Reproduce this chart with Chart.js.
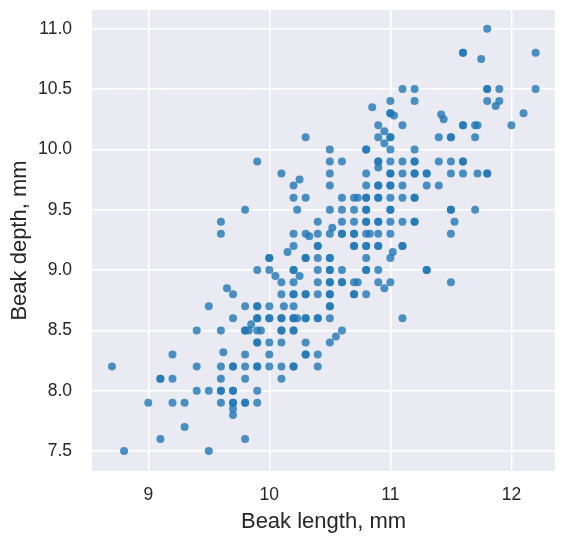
<!DOCTYPE html>
<html><head><meta charset="utf-8">
<script src="https://cdn.jsdelivr.net/npm/chart.js@4/dist/chart.umd.min.js"></script>
<style>html,body{margin:0;padding:0;background:#fff;}#wrap{width:565px;height:543px;}</style>
</head><body><div id="wrap"><canvas id="c" width="565" height="543"></canvas></div>
<script>
// Beak length (mm), one line per beak-depth row
const beakLength = [
  11.8,
  11.6, 11.6, 12.2,
  11.75,
  11.1, 11.2, 11.8, 11.8, 11.9, 12.2,
  11.0, 11.2, 11.8, 11.9,
  11.87,
  10.85,
  11.0, 11.0, 12.1,
  11.42,
  11.03,
  11.44,
  10.9, 11.1, 11.6, 11.6, 11.7, 11.72, 12.0,
  10.95,
  10.3, 10.9, 11.0, 11.0, 11.4, 11.5, 11.5, 11.7,
  10.95,
  10.5, 10.8, 10.8, 11.0, 11.2,
  9.9, 10.5, 10.6, 10.9, 10.9, 11.0, 11.1, 11.2, 11.2, 11.4, 11.5, 11.6, 11.6,
  10.9,
  10.1, 10.5, 10.8, 11.0, 11.0, 11.1, 11.2, 11.2, 11.3, 11.3, 11.5, 11.6, 11.72, 11.8, 11.8,
  10.25,
  10.2, 10.5, 10.8, 10.9, 10.9, 11.0, 11.0, 11.1, 11.3, 11.4,
  10.2, 10.3, 10.6, 10.7, 10.73, 10.8, 10.8, 10.9, 10.9, 11.0, 11.1, 11.2, 11.2,
  9.8, 10.23, 10.5, 10.6, 10.7, 10.8, 10.8, 11.0, 11.0, 11.5, 11.5, 11.7,
  9.6, 10.4, 10.6, 10.7, 10.8, 10.8, 10.9, 10.9, 11.0, 11.1, 11.2, 11.2, 11.53,
  10.52,
  9.6, 10.2, 10.3, 10.4, 10.5, 10.6, 10.6, 10.7, 10.7, 10.8, 10.83, 10.9, 11.0, 11.5,
  10.33,
  10.2, 10.4, 10.4, 10.7, 10.7, 10.8, 10.8, 10.9, 10.9, 11.1, 11.1,
  10.15, 11.02,
  10.0, 10.0, 10.3, 10.3, 10.4, 10.5, 10.5, 10.8, 11.0,
  9.9, 10.0, 10.2, 10.2, 10.4, 10.5, 10.5, 10.6, 10.8, 10.8, 10.9, 11.3, 11.3,
  10.05, 10.25,
  10.1, 10.2, 10.4, 10.5, 10.5, 10.6, 10.6, 10.7, 10.73, 10.9, 11.0, 11.5,
  9.65, 10.95,
  9.7, 10.1, 10.2, 10.2, 10.3, 10.3, 10.4, 10.5, 10.5, 10.7, 10.7, 10.8,
  9.5, 9.8, 9.9, 9.9, 10.0, 10.12, 10.2, 10.5, 10.5,
  9.7, 9.9, 9.9, 10.0, 10.0, 10.1, 10.1, 10.2, 10.2, 10.23, 10.3, 10.3, 10.4, 10.4, 10.5, 11.1,
  9.85,
  9.4, 9.6, 9.8, 9.8, 9.83, 9.9, 9.93, 10.1, 10.1, 10.2, 10.2, 10.6,
  10.55,
  9.9, 9.9, 10.0, 10.1, 10.3, 10.5,
  9.62,
  9.2, 9.8, 10.0, 10.3, 10.3, 10.4,
  8.7, 9.4, 9.6, 9.7, 9.7, 9.8, 9.9, 9.9, 10.0, 10.1, 10.2, 10.2, 10.4,
  9.1, 9.1, 9.2, 9.6, 9.8, 10.1,
  9.4, 9.5, 9.6, 9.6, 9.7, 9.7, 9.9,
  9.0, 9.2, 9.3, 9.6, 9.7, 9.7, 9.8, 9.8, 9.9,
  9.7,
  9.7,
  9.3,
  9.1, 9.8,
  8.8, 9.5
];
// Beak depth (mm), same order as beakLength
const beakDepth = [
  11.0,
  10.8, 10.8, 10.8,
  10.75,
  10.5, 10.5, 10.5, 10.5, 10.5, 10.5,
  10.4, 10.4, 10.4, 10.4,
  10.36,
  10.35,
  10.3, 10.3, 10.3,
  10.29,
  10.28,
  10.25,
  10.2, 10.2, 10.2, 10.2, 10.2, 10.2, 10.2,
  10.15,
  10.1, 10.1, 10.1, 10.1, 10.1, 10.1, 10.1, 10.1,
  10.05,
  10.0, 10.0, 10.0, 10.0, 10.0,
  9.9, 9.9, 9.9, 9.9, 9.9, 9.9, 9.9, 9.9, 9.9, 9.9, 9.9, 9.9, 9.9,
  9.85,
  9.8, 9.8, 9.8, 9.8, 9.8, 9.8, 9.8, 9.8, 9.8, 9.8, 9.8, 9.8, 9.8, 9.8, 9.8,
  9.75,
  9.7, 9.7, 9.7, 9.7, 9.7, 9.7, 9.7, 9.7, 9.7, 9.7,
  9.6, 9.6, 9.6, 9.6, 9.6, 9.6, 9.6, 9.6, 9.6, 9.6, 9.6, 9.6, 9.6,
  9.5, 9.5, 9.5, 9.5, 9.5, 9.5, 9.5, 9.5, 9.5, 9.5, 9.5, 9.5,
  9.4, 9.4, 9.4, 9.4, 9.4, 9.4, 9.4, 9.4, 9.4, 9.4, 9.4, 9.4, 9.4,
  9.35,
  9.3, 9.3, 9.3, 9.3, 9.3, 9.3, 9.3, 9.3, 9.3, 9.3, 9.3, 9.3, 9.3, 9.3,
  9.28,
  9.2, 9.2, 9.2, 9.2, 9.2, 9.2, 9.2, 9.2, 9.2, 9.2, 9.2,
  9.15, 9.15,
  9.1, 9.1, 9.1, 9.1, 9.1, 9.1, 9.1, 9.1, 9.1,
  9.0, 9.0, 9.0, 9.0, 9.0, 9.0, 9.0, 9.0, 9.0, 9.0, 9.0, 9.0, 9.0,
  8.95, 8.95,
  8.9, 8.9, 8.9, 8.9, 8.9, 8.9, 8.9, 8.9, 8.9, 8.9, 8.9, 8.9,
  8.85, 8.85,
  8.8, 8.8, 8.8, 8.8, 8.8, 8.8, 8.8, 8.8, 8.8, 8.8, 8.8, 8.8,
  8.7, 8.7, 8.7, 8.7, 8.7, 8.7, 8.7, 8.7, 8.7,
  8.6, 8.6, 8.6, 8.6, 8.6, 8.6, 8.6, 8.6, 8.6, 8.6, 8.6, 8.6, 8.6, 8.6, 8.6, 8.6,
  8.55,
  8.5, 8.5, 8.5, 8.5, 8.5, 8.5, 8.5, 8.5, 8.5, 8.5, 8.5, 8.5,
  8.45,
  8.4, 8.4, 8.4, 8.4, 8.4, 8.4,
  8.32,
  8.3, 8.3, 8.3, 8.3, 8.3, 8.3,
  8.2, 8.2, 8.2, 8.2, 8.2, 8.2, 8.2, 8.2, 8.2, 8.2, 8.2, 8.2, 8.2,
  8.1, 8.1, 8.1, 8.1, 8.1, 8.1,
  8.0, 8.0, 8.0, 8.0, 8.0, 8.0, 8.0,
  7.9, 7.9, 7.9, 7.9, 7.9, 7.9, 7.9, 7.9, 7.9,
  7.85,
  7.8,
  7.7,
  7.6, 7.6,
  7.5, 7.5
];
const xTickValues = [9, 10, 11, 12];
const yTickValues = [7.5, 8.0, 8.5, 9.0, 9.5, 10.0, 10.5, 11.0];
const xTitle = 'Beak length, mm';
const yTitle = 'Beak depth, mm';

const points = beakLength.map((x, i) => ({ x: x, y: beakDepth[i] }));
const FONT = '"Liberation Sans", Arial, Helvetica, sans-serif';
const TEXT = '#262626';

const bgPlugin = {
  id: 'plotBg',
  beforeDraw(chart) {
    const { ctx, chartArea: a } = chart;
    ctx.save();
    ctx.fillStyle = '#EAEAF2';
    ctx.fillRect(a.left, a.top, a.right - a.left, a.bottom - a.top);
    ctx.restore();
  }
};

new Chart(document.getElementById('c'), {
  type: 'scatter',
  data: {
    datasets: [{
      data: points,
      backgroundColor: 'rgba(31,119,180,0.8)',
      borderWidth: 0,
      pointRadius: 4,
      pointHoverRadius: 4
    }]
  },
  options: {
    responsive: false,
    animation: false,
    devicePixelRatio: 1,
    layout: { padding: { top: 10, right: 10, left: 0, bottom: 0 } },
    plugins: { legend: { display: false }, tooltip: { enabled: false } },
    scales: {
      x: {
        type: 'linear',
        min: 8.535, max: 12.36,
        afterBuildTicks: s => { s.ticks = xTickValues.map(v => ({ value: v })); },
        afterFit: s => { s.height = 72; s.paddingLeft = 0; s.paddingRight = 0; },
        grid: { color: '#FFFFFF', lineWidth: 1.5, drawTicks: false },
        border: { display: false },
        ticks: { font: { family: FONT, size: 17.5 }, color: TEXT, padding: 14, maxRotation: 0,
                 callback: v => String(v) },
        title: { display: true, text: xTitle, color: TEXT, font: { family: FONT, size: 22 },
                 padding: { top: 0, bottom: 8 } }
      },
      y: {
        type: 'linear',
        min: 7.335, max: 11.155,
        afterBuildTicks: s => { s.ticks = yTickValues.map(v => ({ value: v })); },
        afterFit: s => { s.width = 92; s.paddingTop = 0; s.paddingBottom = 0; },
        grid: { color: '#FFFFFF', lineWidth: 1.5, drawTicks: false },
        border: { display: false },
        ticks: { font: { family: FONT, size: 17.5 }, color: TEXT, padding: 20,
                 callback: v => Number(v).toFixed(1) },
        title: { display: true, text: yTitle, color: TEXT, font: { family: FONT, size: 22 },
                 padding: { top: 6.5, bottom: 0 } }
      }
    }
  },
  plugins: [bgPlugin]
});
</script>
</body></html>
